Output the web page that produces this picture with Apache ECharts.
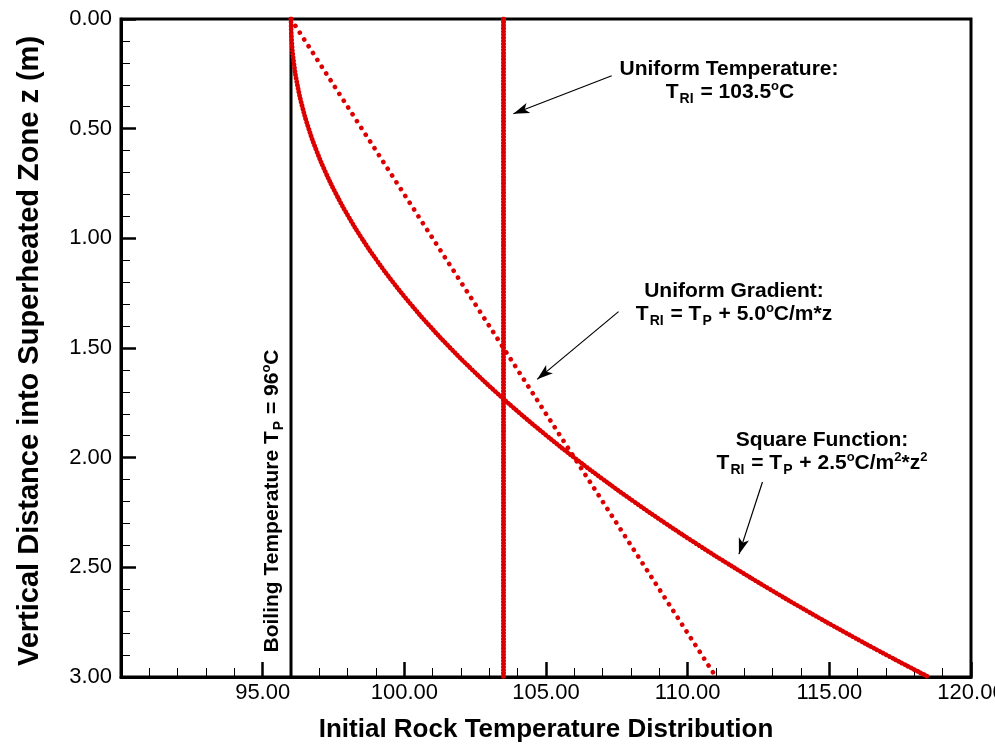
<!DOCTYPE html>
<html>
<head>
<meta charset="utf-8">
<script src="https://cdn.jsdelivr.net/npm/echarts@6/dist/echarts.min.js"></script>
<style>html,body{margin:0;padding:0;background:#fff;overflow:hidden;width:995px;height:745px}#c{width:995px;height:745px}</style>
</head>
<body>
<div id="c"></div>
<script>
// Data
const squareDepth = [0,0.1,0.2,0.3,0.4,0.5,0.6,0.7,0.8,0.9,1.0,1.1,1.2,1.3,1.4,1.5,1.6,1.7,1.8,1.9,2.0,2.1,2.2,2.3,2.4,2.5,2.6,2.7,2.8,2.9,3.0];
const squareTemp = [96,96.025,96.1,96.225,96.4,96.625,96.9,97.225,97.6,98.025,98.5,99.025,99.6,100.225,100.9,101.625,102.4,103.225,104.1,105.025,106,107.025,108.1,109.225,110.4,111.625,112.9,114.225,115.6,117.025,118.5];
const gradientDepth = [0, 3];
const gradientTemp = [96, 111];
const uniformDepth = [0, 3];
const uniformTemp = [103.5, 103.5];
const boilingDepth = [0, 3];
const boilingTemp = [96, 96];
const xTicks = [90, 120, 5];
const yTicks = [0, 3, 0.5];

const F = '"Liberation Sans", Arial, sans-serif';
const RED = '#dd0000';
const pair = (xs, ys) => xs.map((x, i) => [x, ys[i]]);

const rich = {
  m: {fontSize: 21, fontWeight: 'bold', fontFamily: F, color: '#000'},
  s: {fontSize: 14, fontWeight: 'bold', fontFamily: F, color: '#000', padding: [14, 1, 0, 1]},
  p: {fontSize: 13, fontWeight: 'bold', fontFamily: F, color: '#000', padding: [0, 0, 12, 0]}
};
function txt(x, y, text, rot) {
  return {type: 'text', x: x, y: y, rotation: rot || 0, z: 100,
    style: {text: text, align: 'center', verticalAlign: 'middle', rich: rich,
      font: 'bold 21px ' + F, fill: '#000'}};
}

const chart = echarts.init(document.getElementById('c'), null, {renderer: 'canvas', width: 995, height: 745});
const arrowLine = (a, b) => [{coord: a}, {coord: b}];

chart.setOption({
  animation: false,
  backgroundColor: '#fff',
  grid: {left: 121, right: 24, top: 19, bottom: 68, outerBoundsMode: 'none', containLabel: false,
    show: true, borderColor: '#000', borderWidth: 3, backgroundColor: 'transparent'},
  xAxis: {
    type: 'value', min: xTicks[0], max: xTicks[1], interval: xTicks[2],
    axisLine: {onZero: false, lineStyle: {color: '#000', width: 3}},
    axisTick: {inside: true, length: 15, lineStyle: {color: '#000', width: 2.5}},
    minorTick: {show: true, splitNumber: 5, length: 9, lineStyle: {color: '#000', width: 1}},
    splitLine: {show: false},
    axisLabel: {fontSize: 22, fontFamily: F, color: '#000', margin: 5,
      formatter: v => v === xTicks[0] ? '' : v.toFixed(2)}
  },
  yAxis: {
    type: 'value', inverse: true, min: yTicks[0], max: yTicks[1], interval: yTicks[2],
    axisLine: {onZero: false, lineStyle: {color: '#000', width: 3}},
    axisTick: {inside: true, length: 15, lineStyle: {color: '#000', width: 2.5}},
    minorTick: {show: true, splitNumber: 5, length: 9, lineStyle: {color: '#000', width: 1}},
    splitLine: {show: false},
    axisLabel: {fontSize: 22, fontFamily: F, color: '#000', margin: 9,
      formatter: v => v.toFixed(2)}
  },
  series: [
    {type: 'line', name: 'boiling', data: pair(boilingTemp, boilingDepth), symbol: 'none',
     lineStyle: {color: '#000', width: 3}, silent: true,
     markLine: {silent: true, symbol: ['none', 'arrow'], symbolSize: [8, 16],
       label: {show: false}, lineStyle: {color: '#000', width: 1.2, type: 'solid'},
       emphasis: {disabled: true},
       data: [
         arrowLine([107.32, 0.259], [103.85, 0.432]),
         arrowLine([107.56, 1.334], [104.69, 1.643]),
         arrowLine([112.64, 2.111], [111.81, 2.440])
       ]}},
    {type: 'line', name: 'uniform', data: pair(uniformTemp, uniformDepth), symbol: 'none',
     lineStyle: {color: RED, width: 5, type: [0.1, 3], cap: 'round'}, silent: true},
    {type: 'line', name: 'gradient', data: pair(gradientTemp, gradientDepth), symbol: 'none',
     lineStyle: {color: RED, width: 4.6, type: [0.1, 8], cap: 'round'}, silent: true},
    {type: 'line', name: 'square', data: pair(squareTemp, squareDepth), symbol: 'none', smooth: true,
     lineStyle: {color: RED, width: 4.8, type: [0.1, 3.4], cap: 'round'}, silent: true}
  ],
  graphic: [
    txt(729, 69, '{m|Uniform Temperature:}'),
    txt(730, 92, '{m|T}{s|RI}{m| = 103.5}{p|o}{m|C}'),
    txt(734, 291, '{m|Uniform Gradient:}'),
    txt(734, 314, '{m|T}{s|RI}{m| = T}{s|P}{m| + 5.0}{p|o}{m|C/m*z}'),
    txt(822, 440, '{m|Square Function:}'),
    txt(822, 463, '{m|T}{s|RI}{m| = T}{s|P}{m| + 2.5}{p|o}{m|C/m}{p|2}{m|*z}{p|2}'),
    txt(272, 501, '{m|Boiling Temperature T}{s|P}{m| = 96}{p|o}{m|C}', Math.PI / 2),
    {type: 'text', x: 546, y: 730, z: 100, style: {text: 'Initial Rock Temperature Distribution', align: 'center', verticalAlign: 'middle', font: 'bold 26px ' + F, fill: '#000'}},
    {type: 'text', x: 30, y: 351, rotation: Math.PI / 2, z: 100, style: {text: 'Vertical Distance into Superheated Zone z (m)', align: 'center', verticalAlign: 'middle', font: 'bold 29px ' + F, fill: '#000'}}
  ]
});
</script>
</body>
</html>
